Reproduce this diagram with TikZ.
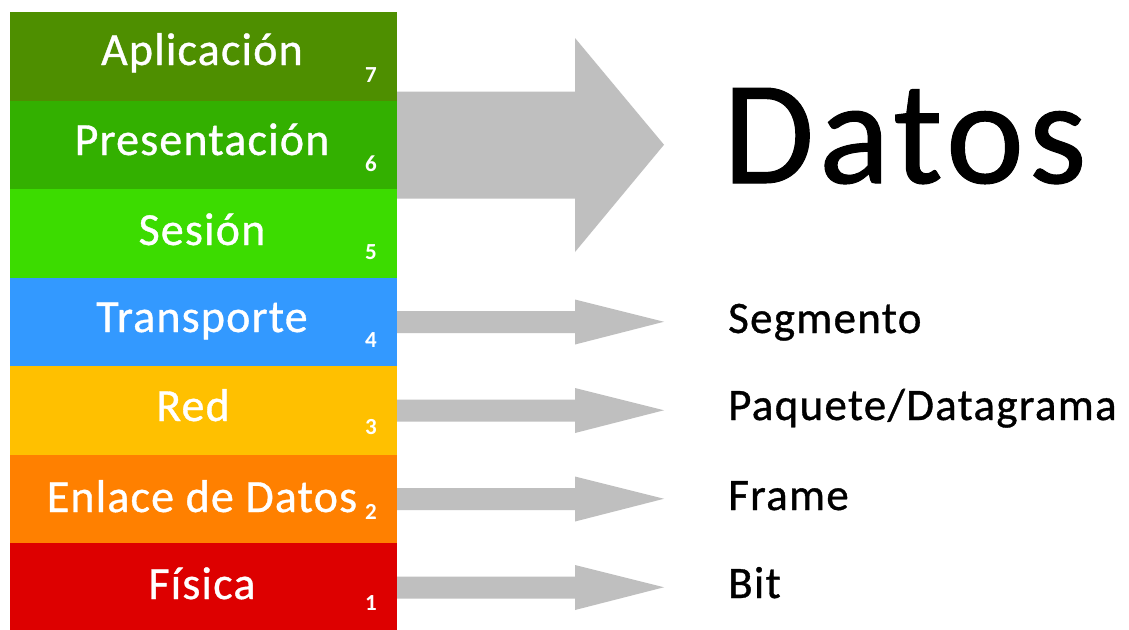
\documentclass[tikz,border=0pt]{standalone}
\usepackage{fontspec}
\setmainfont{Carlito}
\newfontfamily\etiq[LetterSpace=2.5,FakeBold=0.8]{Carlito}
\newfontfamily\etiqpdu[LetterSpace=2.9,FakeBold=0.8]{Carlito}
\newfontfamily\etiqgrande[LetterSpace=3.2,FakeBold=0.7]{Carlito}
\usetikzlibrary{calc}
\definecolor{capa7}{HTML}{4E8F00}
\definecolor{capa6}{HTML}{33B000}
\definecolor{capa5}{HTML}{3CDC00}
\definecolor{capa4}{HTML}{3399FF}
\definecolor{capa3}{HTML}{FFC000}
\definecolor{capa2}{HTML}{FF8000}
\definecolor{capa1}{HTML}{DD0000}
\definecolor{flecha}{HTML}{BFBFBF}
\begin{document}
\begin{tikzpicture}[x=1pt,y=-1pt,
  layer/.style={fill=#1, minimum width=387pt, minimum height=89pt, inner sep=0pt, outer sep=0pt, anchor=north west},
  lname/.style={text=white, font=\etiq\fontsize{46}{46}\selectfont, anchor=base, inner sep=0pt},
  lnum/.style={text=white, font=\bfseries\fontsize{23}{23}\selectfont, anchor=base, inner sep=0pt},
  pdu/.style={text=black, font=\etiqpdu\fontsize{45}{45}\selectfont, anchor=base west, inner sep=0pt},
  big/.style={text=black, font=\etiqgrande\fontsize{148}{148}\selectfont, anchor=base west, inner sep=0pt},
  flechagris/.style={fill=flecha}]
\useasboundingbox (0,0) rectangle (1129,629);
\clip (0,0) rectangle (1129,629);
\fill[white] (0,0) rectangle (1129,629);
% layers
\node[layer=capa7] (l7) at (10,12) {};
\node[layer=capa6] (l6) at (10,100.5) {};
\node[layer=capa5] (l5) at (10,189) {};
\node[layer=capa4] (l4) at (10,277.5) {};
\node[layer=capa3] (l3) at (10,366) {};
\node[layer=capa2] (l2) at (10,454.5) {};
\node[layer=capa1] (l1) at (10,543) {};
% names
\node[lname] (n7) at (202,65) {Aplicación};
\node[lname] (n6) at (202,155) {Presentación};
\node[lname] (n5) at (202,245) {Sesión};
\node[lname] (n4) at (202,332) {Transporte};
\node[lname] (n3) at (193,421) {Red};
\node[lname] (n2) at (202,512) {Enlace de Datos};
\node[lname] (n1) at (202,599) {Física};
% numbers
\node[lnum] (k7) at (371,82) {7};
\node[lnum] (k6) at (371,171) {6};
\node[lnum] (k5) at (371,259) {5};
\node[lnum] (k4) at (371,347) {4};
\node[lnum] (k3) at (371,434) {3};
\node[lnum] (k2) at (371,519) {2};
\node[lnum] (k1) at (371,610) {1};
% right labels
\node[big] (datos) at (723,183) {Datos};
\node[pdu] (p4) at (728,333) {Segmento};
\node[pdu] (p3) at (728,420) {Paquete/Datagrama};
\node[pdu] (p2) at (728,510) {Frame};
\node[pdu] (p1) at (728,598) {Bit};
% tips
\coordinate (t6) at (664,144.75);
\coordinate (t4) at (664,321.75);
\coordinate (t3) at (664,410.25);
\coordinate (t2) at (664,498.75);
\coordinate (t1) at (664,587.25);
% big arrow
\fill[flechagris] ($(l6.east)+(0,-53.5)$) -- ++(178,0) -- ++(0,-53.5) -- (t6)
  -- ($(l6.east)+(178,107)$) -- ++(0,-53.5) -- ($(l6.east)+(0,53.5)$) -- cycle;
% small arrows
\foreach \i in {4,3,2,1}{
  \fill[flechagris] ($(l\i.east)+(0,-11)$) -- ++(178,0) -- ++(0,-11.5) -- (t\i)
    -- ($(l\i.east)+(178,22.5)$) -- ++(0,-11.5) -- ($(l\i.east)+(0,11)$) -- cycle;
}
\end{tikzpicture}
\end{document}
